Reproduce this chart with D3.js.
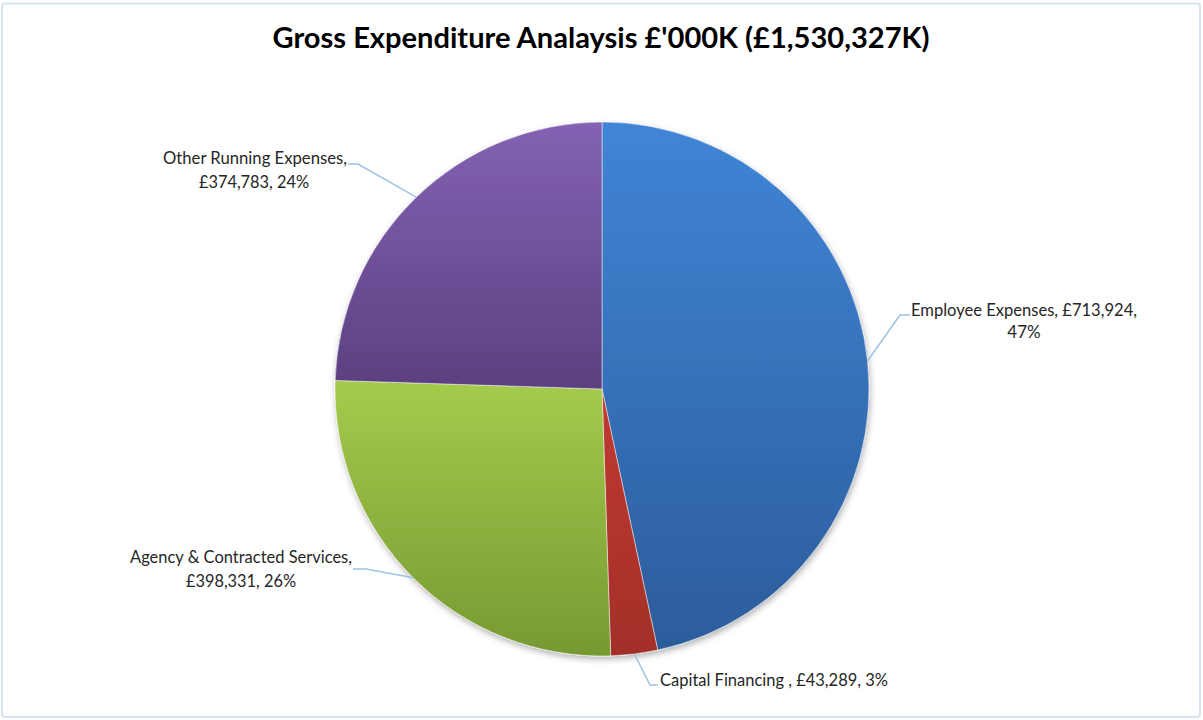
<!DOCTYPE html>
<html><head><meta charset="utf-8">
<script src="https://cdn.jsdelivr.net/npm/d3@7/dist/d3.min.js"></script>
<style>html,body{margin:0;padding:0;background:#fff;} svg{display:block;}</style>
</head><body>
<svg id="c" width="1203" height="720"></svg>
<script>
const title = "Gross Expenditure Analaysis £'000K (£1,530,327K)";
const categories = ["Employee Expenses", "Capital Financing ", "Agency & Contracted Services", "Other Running Expenses"];
const values = [713924, 43289, 398331, 374783];
const percents = ["47%", "3%", "26%", "24%"];
const colorsTop = ["#4085d6", "#c13a32", "#a5cb4d", "#8462b3"];
const colorsBottom = ["#2c5c9b", "#a22f29", "#779932", "#5b4080"];

// label layout: lines, anchor, x, baselines, leader elbow & end
const labelLayout = [
  {lines:["Employee Expenses, £713,924,", "47%"], x:[911,1024], anchor:["start","middle"], y:[316,338], len:[226,null], elbow:[900,315], end:[910,315]},
  {lines:["Capital Financing , £43,289, 3%"], x:[660], anchor:["start"], y:[686], len:[228], elbow:[650,685], end:[658,685]},
  {lines:["Agency & Contracted Services,", "£398,331, 26%"], x:[241,241], anchor:["middle","middle"], y:[563,587], len:[222,110], elbow:[366,569], end:[353,569]},
  {lines:["Other Running Expenses,", "£374,783, 24%"], x:[255,254], anchor:["middle","middle"], y:[164,188], len:[184,110], elbow:[358,164], end:[348,164]}
];

const svg = d3.select("#c");
svg.append("rect").attr("x",2).attr("y",3.5).attr("width",1198).attr("height",713.5)
  .attr("rx",3).attr("fill","#fff").attr("stroke","#d6e3f3").attr("stroke-width",2);

const defs = svg.append("defs");
values.forEach((v,i)=>{
  const g = defs.append("linearGradient").attr("id","g"+i).attr("x1",0).attr("y1",0).attr("x2",0).attr("y2",1);
  g.append("stop").attr("offset","0%").attr("stop-color",colorsTop[i]);
  g.append("stop").attr("offset","100%").attr("stop-color",colorsBottom[i]);
});
const f = defs.append("filter").attr("id","sh").attr("x","-10%").attr("y","-10%").attr("width","120%").attr("height","120%");
f.append("feDropShadow").attr("dx",1).attr("dy",3).attr("stdDeviation",3).attr("flood-color","#000").attr("flood-opacity",0.3);

svg.append("text").attr("x",601).attr("y",48).attr("text-anchor","middle")
  .attr("font-family","Lato, 'Open Sans', sans-serif").attr("font-weight","bold").attr("font-size",28.5)
  .attr("fill","#000").attr("textLength",657).attr("lengthAdjust","spacingAndGlyphs").text(title);

const cx = 602, cy = 389, r = 267;
const pie = d3.pie().sort(null).value(d=>d);
const arcs = pie(values);
const arc = d3.arc().innerRadius(0).outerRadius(r);

const g = svg.append("g").attr("transform",`translate(${cx},${cy})`);
const sg = g.append("g").attr("filter","url(#sh)");
sg.selectAll("path").data(arcs).enter().append("path")
  .attr("d",arc).attr("fill",(d,i)=>`url(#g${i})`)
  .attr("stroke","#ffffff").attr("stroke-opacity",0.6).attr("stroke-width",0.8);

// leader lines
arcs.forEach((d,i)=>{
  const a = (d.startAngle+d.endAngle)/2;
  const px = cx + r*Math.sin(a), py = cy - r*Math.cos(a);
  const L = labelLayout[i];
  svg.append("polyline").attr("points",`${px},${py} ${L.elbow[0]},${L.elbow[1]} ${L.end[0]},${L.end[1]}`)
    .attr("fill","none").attr("stroke","#9dc3e6").attr("stroke-width",1.5);
  L.lines.forEach((t,j)=>{
    const tx = svg.append("text").attr("x",L.x[j]).attr("y",L.y[j]).attr("text-anchor",L.anchor[j])
      .attr("font-family","Lato, 'Open Sans', sans-serif").attr("font-size",17).attr("fill","#262626").text(t);
    if (L.len[j]) tx.attr("textLength",L.len[j]).attr("lengthAdjust","spacingAndGlyphs");
  });
});
</script>
</body></html>
